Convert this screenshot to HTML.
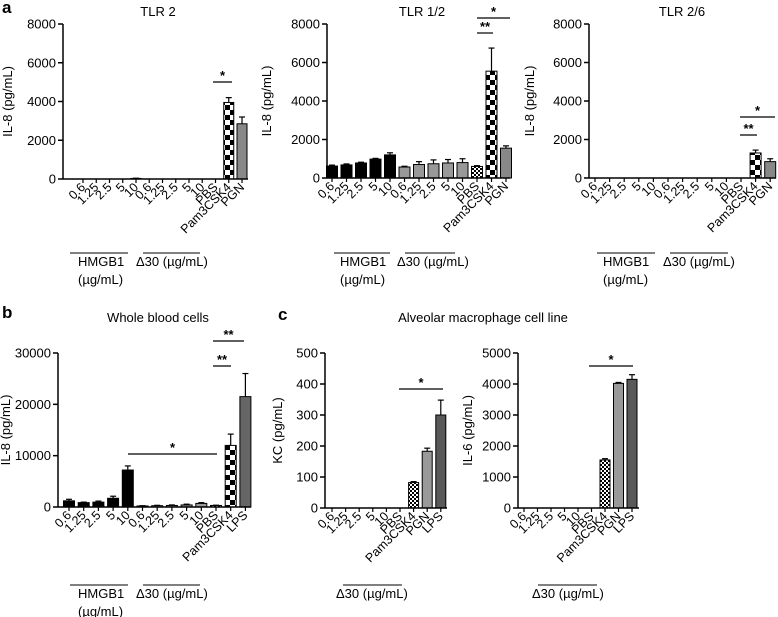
<!DOCTYPE html>
<html><head><meta charset="utf-8"><style>
html,body{margin:0;padding:0;background:#fff;}
svg{display:block;font-family:"Liberation Sans",Arial,sans-serif;}
</style></head><body>
<svg id="fig" width="778" height="617" viewBox="0 0 778 617" xmlns="http://www.w3.org/2000/svg">
<defs>
<pattern id="checker" width="10" height="10" patternUnits="userSpaceOnUse">
<rect width="10" height="10" fill="#fff"/><rect width="5" height="5" fill="#000"/><rect x="5" y="5" width="5" height="5" fill="#000"/>
</pattern>
<pattern id="dots" width="4" height="4" patternUnits="userSpaceOnUse">
<rect width="4" height="4" fill="#fff"/><rect width="2" height="2" fill="#000"/><rect x="2" y="2" width="2" height="2" fill="#000"/>
</pattern>
</defs>
<g id="root"></g>
</svg>
<script>
// ---- data ----
const catsTLR = ["0.6","1.25","2.5","5","10","0.6","1.25","2.5","5","10","PBS","Pam3CSK4","PGN"];
const catsWB = ["0.6","1.25","2.5","5","10","0.6","1.25","2.5","5","10","PBS","Pam3CSK4","LPS"];
const catsC = ["0.6","1.25","2.5","5","10","PBS","Pam3CSK4","PGN","LPS"];
const tlr2Vals = [0,0,0,0,30,0,0,0,0,0,0,3950,2850];
const tlr2Errs = [0,0,0,0,10,0,0,0,0,0,0,250,350];
const tlr12Vals = [620,680,780,980,1200,570,700,740,780,800,600,5550,1550];
const tlr12Errs = [50,50,40,40,110,40,150,200,180,200,40,1200,120];
const tlr26Vals = [0,0,0,0,0,0,0,0,0,0,0,1300,850];
const tlr26Errs = [0,0,0,0,0,0,0,0,0,0,0,150,150];
const wbVals = [1200,850,950,1700,7200,200,250,300,400,700,300,12000,21500];
const wbErrs = [300,100,200,400,800,50,80,100,150,150,50,2200,4500];
const kcVals = [0,0,0,0,0,0,82,183,300];
const kcErrs = [0,0,0,0,0,0,3,10,48];
const il6Vals = [0,0,0,0,0,0,1550,4020,4150];
const il6Errs = [0,0,0,0,0,0,40,30,150];
const ticksTLR = [0,2000,4000,6000,8000];
const ticksWB = [0,10000,20000,30000];
const ticksKC = [0,100,200,300,400,500];
const ticksIL6 = [0,1000,2000,3000,4000,5000];

const NS="http://www.w3.org/2000/svg";
const root=document.getElementById('root');
function mk(tag,attrs,parent){const e=document.createElementNS(NS,tag);for(const k in attrs)e.setAttribute(k,attrs[k]);(parent||root).appendChild(e);return e;}
function txt(s,x,y,opt,parent){const t=mk('text',Object.assign({x:x,y:y,'font-size':11,fill:'#000'},opt||{}),parent);t.textContent=s;return t;}

function fillFor(kind,i,n){
  if(kind==='tlr'||kind==='wb'){
    if(i<5) return '#000';
    if(i<10) return '#999';
    if(i===10) return 'url(#dots)';
    if(i===11) return 'url(#checker)';
    return kind==='wb' ? '#666' : '#888';
  }
  if(i<=5) return '#fff';
  if(i===6) return 'url(#dots)';
  if(i===7) return '#999';
  return '#595959';
}

function chart(o){
  const g=mk('g',{});
  
  
  const ymax=o.ticks[o.ticks.length-1];
  const Y=v=>o.y0-(v/ymax)*(o.y0-o.y1);
  const X=i=>o.x0+i*o.step;
  o.vals.forEach((v,i)=>{
    if(v<=0) return;
    const r=mk('rect',{x:X(i)-o.bw/2,y:Y(v),width:o.bw,height:o.y0-Y(v),fill:fillFor(o.kind,i),stroke:'#000','stroke-width':1},g);
    
    
    const e=o.errs[i];
    if(e>0){
      mk('line',{x1:X(i),x2:X(i),y1:Y(v),y2:Y(v+e),stroke:'#000','stroke-width':1.2},g);
      mk('line',{x1:X(i)-3,x2:X(i)+3,y1:Y(v+e),y2:Y(v+e),stroke:'#000','stroke-width':1.2},g);
    }
  });
  const ya=mk('line',{x1:o.ax,x2:o.ax,y1:o.y1,y2:o.y0,stroke:'#000','stroke-width':1.5},g);
  
  const xa=mk('line',{x1:o.ax,x2:o.xEnd,y1:o.y0,y2:o.y0,stroke:'#000','stroke-width':1.5},g);
  
  o.ticks.forEach(t=>{
    mk('line',{x1:o.ax-5,x2:o.ax,y1:Y(t),y2:Y(t),stroke:'#000','stroke-width':1.5},g);
    const l=txt(String(t),o.ax-7,Y(t)+4.5,{'text-anchor':'end','font-size':13},g);
    
  });
  o.cats.forEach((c,i)=>{
    mk('line',{x1:X(i),x2:X(i),y1:o.y0,y2:o.y0+4,stroke:'#000','stroke-width':1.2},g);
    const l=txt(c,X(i)+3,o.y0+9,{'text-anchor':'end','font-size':12.5,transform:'rotate(-45 '+(X(i)+3)+' '+(o.y0+9)+')'},g);
    
  });
  const yl=txt(o.ylabel,o.ylx,(o.y0+o.y1)/2,{'text-anchor':'middle','font-size':13,transform:'rotate(-90 '+o.ylx+' '+((o.y0+o.y1)/2)+')'},g);
  
  if(o.title){const t=txt(o.title,o.tx,o.ty,{'text-anchor':'middle','font-size':13},g);}
  (o.sig||[]).forEach(s=>{
    mk('line',{x1:s[0],x2:s[1],y1:s[2],y2:s[2],stroke:'#000','stroke-width':1.2},g);
    const t=txt(s[3],(s[0]+s[1])/2,s[2]-2,{'text-anchor':'middle','font-size':13,'font-weight':'bold'},g);
    
  });
  (o.groups||[]).forEach(gr=>{
    mk('line',{x1:gr[0],x2:gr[1],y1:o.gy,y2:o.gy,stroke:'#000','stroke-width':1},g);
    gr[2].forEach((s,k)=>{const t=txt(s,gr[3],o.gy+13+k*18,{'font-size':13},g);});
  });
}
const grpsTLR=(h)=>[[70+h,128+h,['HMGB1','(µg/mL)'],78+h],[143+h,200+h,['Δ30 (µg/mL)'],136+h]];
chart({name:'chart-tlr2',kind:'tlr',cats:catsTLR,vals:tlr2Vals,errs:tlr2Errs,ticks:ticksTLR,ax:63,xEnd:248,x0:83,step:13.25,bw:10,y0:179,y1:24,ylabel:'IL-8 (pg/mL)',ylx:12,title:'TLR 2',tx:158,ty:16,sig:[[213,232,82,'*']],groups:grpsTLR(0),gy:253});
chart({name:'chart-tlr12',kind:'tlr',cats:catsTLR,vals:tlr12Vals,errs:tlr12Errs,ticks:ticksTLR,ax:327,xEnd:510,x0:332,step:14.5,bw:11,y0:178,y1:24,ylabel:'IL-8 (pg/mL)',ylx:271,title:'TLR 1/2',tx:422,ty:16,sig:[[477,493,33,'**'],[477,510,18,'*']],groups:[[334,390,['HMGB1','(µg/mL)'],340],[405,455,['Δ30 (µg/mL)'],397]],gy:253});
chart({name:'chart-tlr26',kind:'tlr',cats:catsTLR,vals:tlr26Vals,errs:tlr26Errs,ticks:ticksTLR,ax:589,xEnd:776,x0:595,step:14.6,bw:11,y0:178,y1:24,ylabel:'IL-8 (pg/mL)',ylx:534,title:'TLR 2/6',tx:682,ty:16,sig:[[740,757,135,'**'],[740,775,117,'*']],groups:[[597,655,['HMGB1','(µg/mL)'],603],[670,728,['Δ30 (µg/mL)'],663]],gy:253});
chart({name:'chart-whole-blood',kind:'wb',cats:catsWB,vals:wbVals,errs:wbErrs,ticks:ticksWB,ax:58,xEnd:251,x0:69,step:14.7,bw:11,y0:507,y1:353,ylabel:'IL-8 (pg/mL)',ylx:10,title:'Whole blood cells',tx:158,ty:322,sig:[[128,217,454,'*'],[213,231,366,'**'],[213,244,341,'**']],groups:grpsTLR(0),gy:585});
chart({name:'chart-kc',kind:'c',cats:catsC,vals:kcVals,errs:kcErrs,ticks:ticksKC,ax:325,xEnd:447,x0:332,step:13.6,bw:10,y0:508,y1:353,ylabel:'KC (pg/mL)',ylx:282,sig:[[399,443,389,'*']],groups:[[343,402,['Δ30 (µg/mL)'],336]],gy:585});
chart({name:'chart-il6',kind:'c',cats:catsC,vals:il6Vals,errs:il6Errs,ticks:ticksIL6,ax:518,xEnd:639,x0:524,step:13.5,bw:10,y0:508,y1:353,ylabel:'IL-6 (pg/mL)',ylx:472,sig:[[589,633,366,'*']],groups:[[538,597,['Δ30 (µg/mL)'],532]],gy:585});
const t=txt('Alveolar macrophage cell line',483,322,{'text-anchor':'middle','font-size':13});

[['a',2,13],['b',2,318],['c',278,320]].forEach(p=>{const l=txt(p[0],p[1],p[2],{'font-size':17,'font-weight':'bold'});});
</script>
</body></html>
